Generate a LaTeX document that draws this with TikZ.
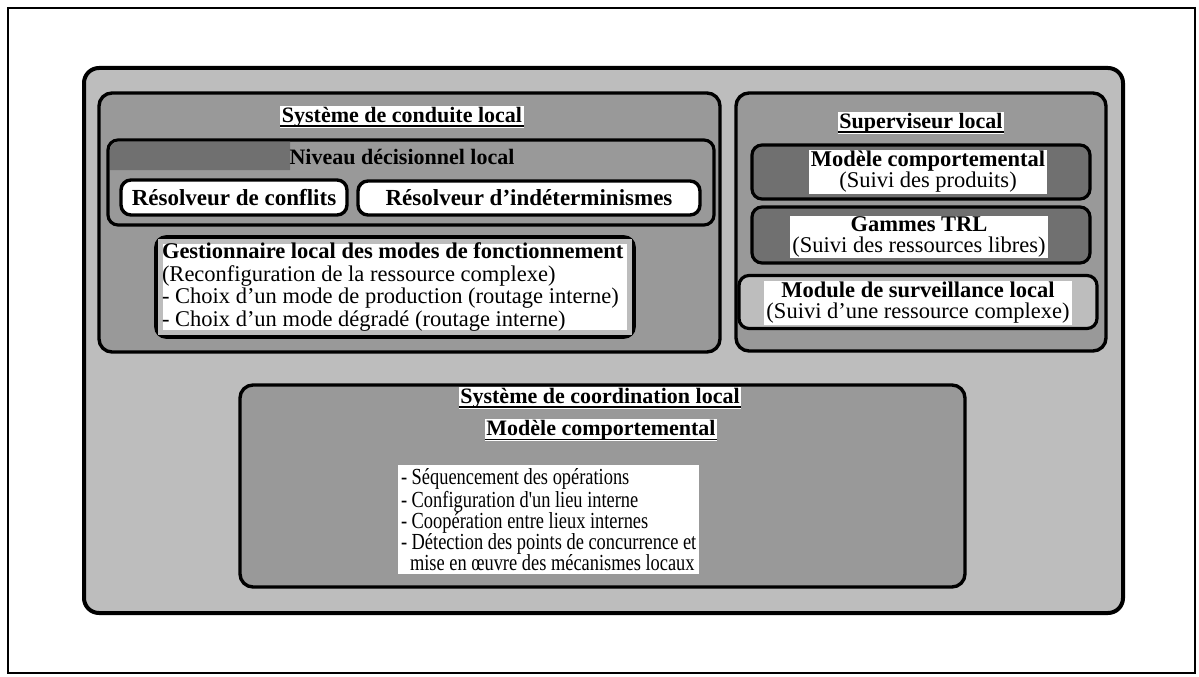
\documentclass[tikz,border=0pt]{standalone}
\usepackage{fontspec}
\setmainfont{Liberation Serif}
\newfontfamily\listfont[FakeStretch=0.8]{Liberation Serif}
\definecolor{toneLight}{gray}{0.74}
\definecolor{toneMid}{gray}{0.60}
\definecolor{toneDark}{gray}{0.44}
\begin{document}
\begin{tikzpicture}[x=1pt,y=-1pt,
  every node/.style={inner sep=0pt, outer sep=0pt},
  pagebox/.style={draw, line width=2.4pt},
  panel/.style={draw, line width=3.4pt, rounded corners=13pt},
  subpanel/.style={draw, line width=3.2pt, rounded corners=10pt},
  pill/.style={draw, fill=white, line width=3.4pt, rounded corners=10pt,
    font=\fontsize{23}{23}\selectfont\bfseries},
  heading/.style={fill=white, inner xsep=1.5pt, inner ysep=1pt,
    font=\fontsize{22}{22}\selectfont\bfseries},
  label/.style={fill=white, inner xsep=2pt, inner ysep=1pt, align=center,
    font=\fontsize{22.5}{21}\selectfont},
  uline/.style={line width=1.8pt}
]
\useasboundingbox (0,0) rectangle (1199,677);

% page frame and outer container
\node[pagebox, minimum width=1187, minimum height=665] (page) at (601.5,340.5) {};
\node[panel, fill=toneLight, line width=4pt, rounded corners=15pt,
      minimum width=1039, minimum height=545] (outer) at (603.5,340.5) {};

% ---- local control system ----
\node[panel, fill=toneMid, minimum width=621, minimum height=259] (conduite) at (409.5,222.5) {};
\node[heading] (tconduite) at (402,117) {Système de conduite local};
\draw[uline] ([yshift=-3.5pt]tconduite.base west) -- ([yshift=-3.5pt]tconduite.base east);

\node[subpanel, fill=toneMid, minimum width=606, minimum height=85] (niveau) at (411,182.5) {};
\fill[toneDark] (110,170) [rounded corners=8pt] -- (110,141.6) [sharp corners] -- (290,141.6) -- (290,170) -- cycle;
\node[heading, fill=none] (tniveau) at (402,157) {Niveau décisionnel local};

\node[pill, minimum width=226, minimum height=35] (resconf) at (234,197.5) {Résolveur de conflits};
\node[pill, minimum width=342, minimum height=34] (resindet) at (529,198) {Résolveur d'indéterminismes};

% mode manager: white interior with a light band inside the border
\node[subpanel, fill=white, line width=3.6pt, minimum width=478, minimum height=100] (gestion) at (395,287) {};
\draw[toneLight, line width=5pt]
  ([shift={(4.3,4.3)}]gestion.north west) rectangle ([shift={(-4.3,-4.3)}]gestion.south east);
\node[anchor=west, align=left, font=\fontsize{22.5}{22.5}\selectfont] (tgestion) at (162,287)
  {\textbf{Gestionnaire local des modes de fonctionnement}\\
   (Reconfiguration de la ressource complexe)\\
   - Choix d'un mode de production (routage interne)\\
   - Choix d'un mode dégradé (routage interne)};

% ---- local supervisor ----
\node[panel, fill=toneMid, minimum width=370, minimum height=258] (superviseur) at (921,222) {};
\node[heading] (tsup) at (921,123) {Superviseur local};
\draw[uline] ([yshift=-3.5pt]tsup.base west) -- ([yshift=-3.5pt]tsup.base east);

\node[subpanel, fill=toneDark, minimum width=338, minimum height=54] (modsup) at (921,172) {};
\node[label] (tmodsup) at (928,172) {\textbf{Modèle comportemental}\\(Suivi des produits)};

\node[subpanel, fill=toneDark, minimum width=338, minimum height=56] (gammes) at (921,235) {};
\node[label] (tgammes) at (919,237) {\textbf{Gammes TRL}\\(Suivi des ressources libres)};

\node[subpanel, fill=toneLight, minimum width=358, minimum height=53] (module) at (918,302) {};
\node[label] (tmodule) at (918,303) {\textbf{Module de surveillance local}\\(Suivi d'une ressource complexe)};

% ---- local coordination system ----
\node[panel, fill=toneMid, minimum width=725, minimum height=202] (coord) at (602.5,486) {};
\node[heading] (tcoord) at (600,398) {Système de coordination local};
\draw[uline] ([yshift=-3.5pt]tcoord.base west) -- ([yshift=-3.5pt]tcoord.base east);
\node[heading] (tmodcoord) at (601,430) {Modèle comportemental};
\draw[uline, line width=1.2pt] ([yshift=-4pt]tmodcoord.base west) -- ([yshift=-4pt]tmodcoord.base east);

\node[fill=white, inner xsep=3pt, inner ysep=4pt, anchor=north west, align=left,
      font=\listfont\fontsize{23}{21}\selectfont] (liste) at (398,465)
  {- Séquencement des opérations\\
   - Configuration d'un lieu interne\\
   - Coopération entre lieux internes\\
   - Détection des points de concurrence et\\
   \hspace*{9pt}mise en œuvre des mécanismes locaux};
\end{tikzpicture}
\end{document}
